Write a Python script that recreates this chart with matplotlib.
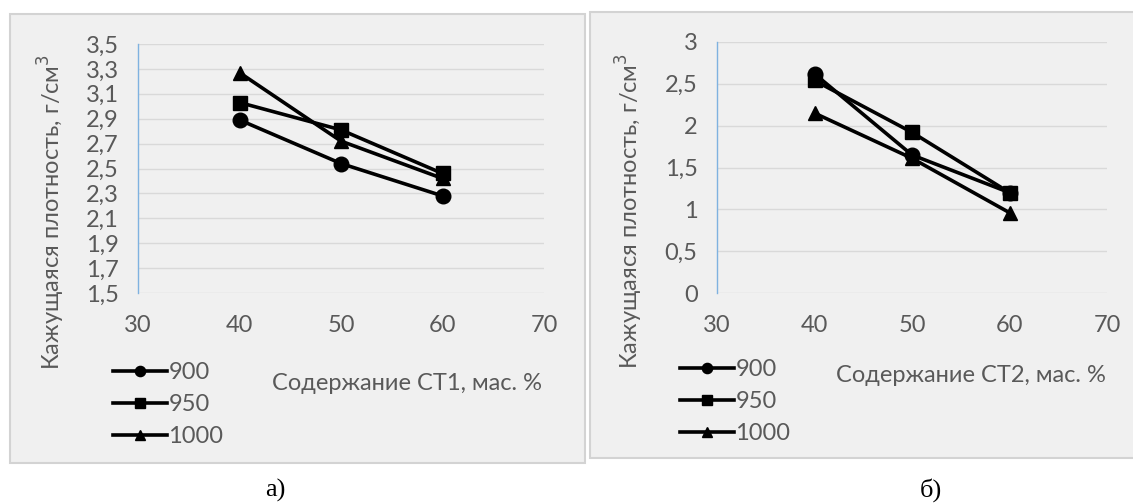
import matplotlib
matplotlib.use("Agg")
import matplotlib.pyplot as plt
from matplotlib.patches import Rectangle
from matplotlib.ticker import FuncFormatter

# data
x_content = [40, 50, 60]
series_labels = ["900", "950", "1000"]
series_markers = ["o", "s", "^"]

# panel a) - CT1
a_900 = [2.89, 2.54, 2.28]
a_950 = [3.03, 2.81, 2.46]
a_1000 = [3.27, 2.72, 2.42]

# panel b) - CT2
b_900 = [2.62, 1.65, 1.20]
b_950 = [2.54, 1.92, 1.20]
b_1000 = [2.15, 1.61, 0.96]

a_yticks = [1.5, 1.7, 1.9, 2.1, 2.3, 2.5, 2.7, 2.9, 3.1, 3.3, 3.5]
b_yticks = [0, 0.5, 1, 1.5, 2, 2.5, 3]
x_ticks = [30, 40, 50, 60, 70]

W, H = 1133, 504
GRAY = "#595959"
FONT = "Lato"
FS = 17

plt.rcParams["font.family"] = [FONT, "DejaVu Sans"]

fig = plt.figure(figsize=(W / 100, H / 100), dpi=100)
fig.patch.set_facecolor("white")


def px(x0, y0, x1, y1):
    # pixel box (top-left origin) -> figure fraction rect
    return [x0 / W, 1 - y1 / H, (x1 - x0) / W, (y1 - y0) / H]


def comma(v, pos):
    return ("%g" % v).replace(".", ",")


def panel(box, ax_box, series, yticks, xlabel, xlabel_pos, ylabel_pos, leg_pos, cap, cap_x):
    # gray panel background
    r = px(*box)
    fig.patches.append(Rectangle((r[0], r[1]), r[2], r[3], transform=fig.transFigure,
                                 facecolor="#f0f0f0", edgecolor="#d3d3d3", lw=1.5, zorder=-5))
    ax = fig.add_axes(px(*ax_box))
    ax.set_facecolor("none")
    ax.set_zorder(2)
    lines = []
    for ys, mk, lab in zip(series, series_markers, series_labels):
        ms = 10 if mk == "s" else 10.5
        ln, = ax.plot(x_content, ys, color="black", lw=2.6, marker=mk, ms=ms,
                      label=lab, zorder=3, clip_on=False)
        lines.append(ln)
    ax.set_xlim(30, 70)
    ax.set_ylim(yticks[0], yticks[-1])
    ax.set_xticks(x_ticks)
    ax.set_yticks(yticks)
    ax.yaxis.set_major_formatter(FuncFormatter(comma))
    ax.grid(axis="y", color="#d9d9d9", lw=1)
    ax.set_axisbelow(True)
    for s in ["top", "right", "bottom"]:
        ax.spines[s].set_visible(False)
    ax.spines["left"].set_color("#7fb2e0")
    ax.spines["left"].set_linewidth(1)
    ax.tick_params(length=0, labelsize=FS, colors=GRAY)
    ax.tick_params(axis="x", pad=16)
    ax.tick_params(axis="y", pad=14)
    fig.text(ylabel_pos[0] / W, 1 - ylabel_pos[1] / H, "Кажущаяся плотность, г/см$^3$",
             fontsize=FS, color=GRAY, rotation=90, ha="center", va="center")
    fig.text(xlabel_pos[0] / W, 1 - xlabel_pos[1] / H, xlabel, fontsize=FS, color=GRAY,
             ha="center", va="center")
    fig.legend(handles=lines, loc="upper left",
               bbox_to_anchor=(leg_pos[0] / W, 1 - leg_pos[1] / H),
               frameon=False, fontsize=FS, labelcolor=GRAY, handlelength=2.3,
               handletextpad=0.05, labelspacing=0.47, borderpad=0, borderaxespad=0,
               markerscale=0.7)
    fig.text(cap_x / W, 1 - 490 / H, cap, fontsize=19, family="Liberation Serif",
             ha="center", va="center", color="black")
    return ax


panel((10, 14, 585, 463), (138, 44, 544, 293), [a_900, a_950, a_1000], a_yticks,
      "Содержание СТ1, мас. %", (407, 383), (51, 212), (113, 362), "а)", 275)
panel((590, 12, 1140, 458), (717, 42, 1107, 293), [b_900, b_950, b_1000], b_yticks,
      "Содержание СТ2, мас. %", (971, 375), (629, 211), (680, 359), "б)", 931)

fig.savefig("out.png", dpi=100)
